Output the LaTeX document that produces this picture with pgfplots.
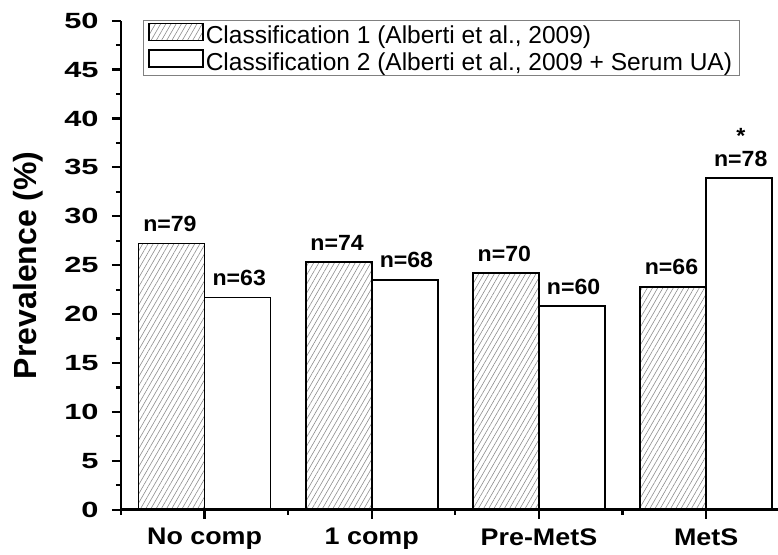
\documentclass[border=0pt]{standalone}
\usepackage{fontspec}
\setmainfont{Liberation Sans}
\usepackage{pgfplots}
\pgfplotsset{compat=1.18}
\usetikzlibrary{patterns.meta}

\pgfplotstableread{
x  c1    n1    c2    n2
0  27.2  n=79  21.7  n=63
1  25.3  n=74  23.5  n=68
2  24.2  n=70  20.8  n=60
3  22.8  n=66  33.9  n=78
}\prev

\begin{document}
\begin{tikzpicture}
\begin{axis}[
    scale only axis,
    width=657pt, height=489pt,
    line width=2.6pt,
    xmin=-0.5, xmax=3.43,
    ymin=0, ymax=50,
    axis x line*=bottom, axis y line*=left,
    axis on top,
    xtick={0,1,2,3},
    xticklabels={No comp,1 comp,Pre-MetS,MetS},
    minor xtick={-0.5,0.5,1.5,2.5},
    ytick={0,5,...,50},
    minor ytick={2.5,7.5,...,47.5},
    tick align=outside,
    major tick length=9pt, minor tick length=5pt,
    tick style={black, line width=2.2pt},
    /pgf/number format/assume math mode=true,
    yticklabel style={font=\bfseries\fontsize{22}{22}\selectfont, xscale=1.4, xshift=-5pt},
    xticklabel style={font=\bfseries\fontsize{24}{24}\selectfont, xscale=1.12, yshift=-5pt},
    ylabel={Prevalence (\%)},
    ylabel style={font=\bfseries\fontsize{32}{32}\selectfont,
        at={(axis description cs:-0.141,0.5)}, anchor=center},
    legend style={at={(axis description cs:0.033,1.001)}, anchor=north west,
        draw=gray, line width=1pt, font=\fontsize{24.5}{24.5}\selectfont,
        row sep=2pt, inner xsep=5pt, inner ysep=2pt,
        nodes={inner sep=2pt}},
    legend cell align=left,
    legend image code/.code={\draw[#1, line width=1.6pt] (0pt,-5pt) rectangle (54pt,12pt);},
    lbl/.style={only marks, mark=none, forget plot, nodes near coords,
        point meta=explicit symbolic,
        every node near coord/.append style={font=\bfseries\fontsize{22}{22}\selectfont,
            inner sep=0pt, black, xscale=1.05, anchor=base}},
]
\addplot[ybar, bar width=66pt, bar shift=-33pt, draw=black, line width=1.6pt,
    pattern={Lines[angle=60,distance=4.5pt,line width=0.6pt]}, pattern color=black!45]
  table[x=x, y=c1] {\prev};
\addplot[ybar, bar width=66pt, bar shift=33pt, draw=black, line width=1.6pt, fill=white]
  table[x=x, y=c2] {\prev};
\legend{{Classification 1 (Alberti et al., 2009)},{Classification 2 (Alberti et al., 2009 + Serum UA)}}
% bar labels
\addplot[lbl, every node near coord/.append style={xshift=-33pt, yshift=12pt}]
  table[x=x, y=c1, meta=n1] {\prev};
\addplot[lbl, every node near coord/.append style={xshift=33pt, yshift=12pt}]
  table[x=x, y=c2, meta=n2] {\prev};
\addplot[lbl, every node near coord/.append style={xshift=33pt, yshift=35pt}]
  coordinates {(3,33.9) [*]};
\end{axis}
\pgfresetboundingbox
\path[use as bounding box] ([xshift=-121pt,yshift=-44.4pt]current axis.south west)
  rectangle ([yshift=20.7pt]current axis.north east);
\end{tikzpicture}
\end{document}
